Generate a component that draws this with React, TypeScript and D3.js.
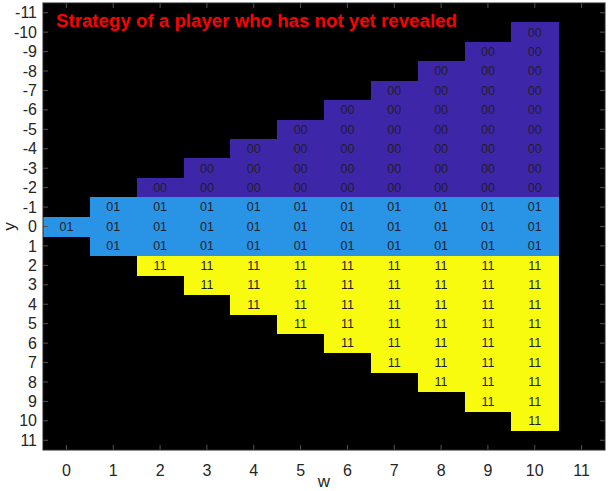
import React from "react";
import * as d3 from "d3";

const wTicks = [0, 1, 2, 3, 4, 5, 6, 7, 8, 9, 10, 11];
const yTicks = [-11, -10, -9, -8, -7, -6, -5, -4, -3, -2, -1, 0, 1, 2, 3, 4, 5, 6, 7, 8, 9, 10, 11];
// rows for y = -10 .. 10, columns for w = 0 .. 10 ("." = empty)
const yRows = [-10, -9, -8, -7, -6, -5, -4, -3, -2, -1, 0, 1, 2, 3, 4, 5, 6, 7, 8, 9, 10];
const grid = [
  ". . . . . . . . . . 00",
  ". . . . . . . . . 00 00",
  ". . . . . . . . 00 00 00",
  ". . . . . . . 00 00 00 00",
  ". . . . . . 00 00 00 00 00",
  ". . . . . 00 00 00 00 00 00",
  ". . . . 00 00 00 00 00 00 00",
  ". . . 00 00 00 00 00 00 00 00",
  ". . 00 00 00 00 00 00 00 00 00",
  ". 01 01 01 01 01 01 01 01 01 01",
  "01 01 01 01 01 01 01 01 01 01 01",
  ". 01 01 01 01 01 01 01 01 01 01",
  ". . 11 11 11 11 11 11 11 11 11",
  ". . . 11 11 11 11 11 11 11 11",
  ". . . . 11 11 11 11 11 11 11",
  ". . . . . 11 11 11 11 11 11",
  ". . . . . . 11 11 11 11 11",
  ". . . . . . . 11 11 11 11",
  ". . . . . . . . 11 11 11",
  ". . . . . . . . . 11 11",
  ". . . . . . . . . . 11",
];
const labelColors: Record<string, string> = { "00": "#3E26A8", "01": "#2993E5", "11": "#F9FB0E" };
const title = "Strategy of a player who has not yet revealed";

export default function App() {
  const W = 609, H = 491;
  const L = 43, R = 605, T = 3, B = 450;
  const x = d3.scaleLinear().domain([-0.5, 11.5]).range([L, R]);
  const y = d3.scaleLinear().domain([-11.5, 11.5]).range([T, B]);
  const cw = x(1) - x(0);
  const ch = y(1) - y(0);
  const cells: { w: number; yv: number; lab: string }[] = [];
  grid.forEach((row, i) => {
    row.split(" ").forEach((lab, j) => {
      if (lab !== ".") cells.push({ w: j, yv: yRows[i], lab });
    });
  });
  const font = "'Liberation Sans', Arial, Helvetica, sans-serif";
  return (
    <svg width={W} height={H} style={{ position: "absolute", left: 0, top: 0 }} fontFamily={font}>
      <rect x={0} y={0} width={W} height={H} fill="#fff" />
      <rect x={L} y={T} width={R - L} height={B - T} fill="#000" />
      <g shapeRendering="crispEdges">
        {cells.map((c, i) => (
          <rect key={"r" + i} x={x(c.w) - cw / 2} y={y(c.yv) - ch / 2} width={cw + 0.6} height={ch + 0.6} fill={labelColors[c.lab]} />
        ))}
      </g>
      {cells.map((c, i) => (
        <text key={"t" + i} x={x(c.w)} y={y(c.yv)} dy="0.35em" textAnchor="middle" fontSize={12.5} fill="#1f1f2a">
          {c.lab}
        </text>
      ))}
      {/* ticks */}
      {wTicks.map((t) => (
        <g key={"xt" + t}>
          <line x1={x(t)} x2={x(t)} y1={B} y2={B - 5} stroke="#555" />
          <line x1={x(t)} x2={x(t)} y1={T} y2={T + 5} stroke="#555" />
          <text x={x(t)} y={476} textAnchor="middle" fontSize={16} fill="#262626">{t}</text>
        </g>
      ))}
      {yTicks.map((t) => (
        <g key={"yt" + t}>
          <line x1={L} x2={L + 5} y1={y(t)} y2={y(t)} stroke="#555" />
          <line x1={R} x2={R - 5} y1={y(t)} y2={y(t)} stroke="#555" />
          <text x={37} y={y(t)} dy="0.35em" textAnchor="end" fontSize={16} fill="#262626">{t}</text>
        </g>
      ))}
      <rect x={L} y={T} width={R - L} height={B - T} fill="none" stroke="#262626" strokeWidth={1} />
      <text x={(L + R) / 2} y={487} textAnchor="middle" fontSize={17} fill="#262626">w</text>
      <text transform={`translate(15,${(T + B) / 2}) rotate(-90)`} textAnchor="middle" fontSize={17} fill="#262626">y</text>
      <text x={56} y={27} fontSize={18.7} fontWeight="bold" fill="#FF0000">{title}</text>
    </svg>
  );
}
